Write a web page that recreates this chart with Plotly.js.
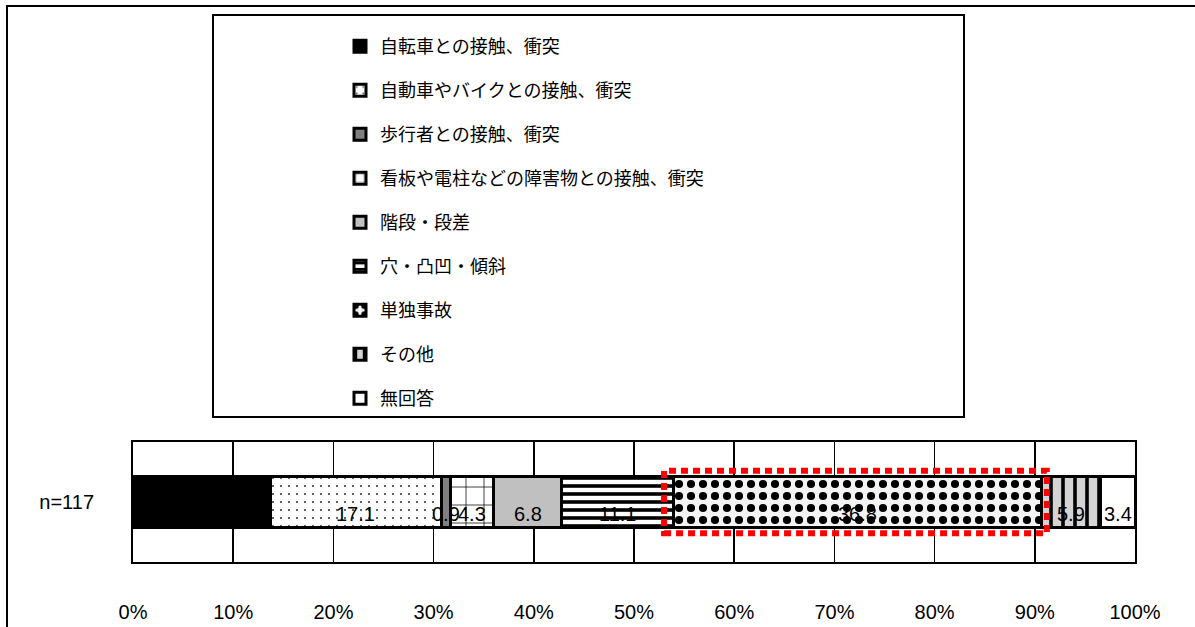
<!DOCTYPE html>
<html>
<head>
<meta charset="utf-8">
<script src="https://cdn.plot.ly/plotly-3.0.1.min.js"></script>
<style>html,body{margin:0;padding:0;background:#fff;}#chart{width:1195px;height:627px;}</style>
</head>
<body>
<div id="chart"></div>
<script>
// ---- data ----
const categories = ["n=117"];
const seriesNames = [
  "自転車との接触、衝突",
  "自動車やバイクとの接触、衝突",
  "歩行者との接触、衝突",
  "看板や電柱などの障害物との接触、衝突",
  "階段・段差",
  "穴・凸凹・傾斜",
  "単独事故",
  "その他",
  "無回答"
];
const seriesValues = [13.7, 17.1, 0.9, 4.3, 6.8, 11.1, 36.8, 5.9, 3.4];
const xTickValues = [0, 10, 20, 30, 40, 50, 60, 70, 80, 90, 100];
const highlightedSeries = "単独事故";

// ---- styles (per series) ----
const styles = [
  {bg: "#000000", fg: "#000000", shape: ""},
  {bg: "#ffffff", fg: "#333333", shape: ".", size: 8, solidity: 0.05},
  {bg: "#808080", fg: "#808080", shape: ""},
  {bg: "#ffffff", fg: "#000000", shape: "+", size: 18, solidity: 0.08},
  {bg: "#c0c0c0", fg: "#c0c0c0", shape: ""},
  {bg: "#ffffff", fg: "#000000", shape: "-", size: 8, solidity: 0.45},
  {bg: "#f4f4f4", fg: "#000000", shape: ".", size: 12, solidity: 0.36},
  {bg: "#d4d4d4", fg: "#000000", shape: "|", size: 12, solidity: 0.3},
  {bg: "#ffffff", fg: "#ffffff", shape: ""}
];

const numFont = "Liberation Sans Narrow, Arial Narrow, Liberation Sans, Arial, sans-serif";
const jpFont = "Noto Sans CJK JP, sans-serif";

const traces = seriesNames.map((name, i) => {
  const st = styles[i];
  const pattern = st.shape ? {shape: st.shape, bgcolor: st.bg, fgcolor: st.fg, size: st.size, solidity: st.solidity, fillmode: "replace"} : {shape: ""};
  return {
    type: "bar",
    orientation: "h",
    name: name,
    legendgroup: "g" + i,
    y: categories,
    x: [seriesValues[i]],
    width: 0.43,
    marker: {color: st.bg, pattern: pattern, line: {color: "#000000", width: 3}},
    hoverinfo: "skip"
  };
});

// value labels placed at each segment's middle (from the cumulative data)
const starts = seriesValues.map((v, i) => seriesValues.slice(0, i).reduce((a, b) => a + b, 0));
const labelAnnotations = seriesValues.map((v, i) => ({
  xref: "x", yref: "y",
  x: starts[i] + v / 2, y: categories[0],
  text: v.toFixed(1),
  showarrow: false,
  yshift: -12,
  font: {family: numFont, size: 20, color: "#000000"}
}));

// highlight rectangle around one segment, from the cumulative data
const hi = seriesNames.indexOf(highlightedSeries);
const hiStart = starts[hi];
const hiEnd = hiStart + seriesValues[hi];

// pixel helpers for paper-referenced layout decorations
const L = 133, R = 1195 - 1135, T = 442, B = 627 - 562;
const W = 1195 - L - R, H = 627 - T - B;
const px = v => (v - L) / W;
const py = v => (627 - B - v) / H;

const layout = {
  width: 1195, height: 627,
  margin: {l: L, r: R, t: T, b: B, autoexpand: false},
  paper_bgcolor: "#ffffff",
  plot_bgcolor: "#ffffff",
  barmode: "stack",
  bargap: 0,
  showlegend: true,
  font: {family: jpFont, color: "#000000"},
  xaxis: {
    range: [0, 100],
    tickvals: xTickValues,
    ticktext: xTickValues.map(v => v + "%"),
    tickangle: 0,
    showgrid: true, gridcolor: "#000000", gridwidth: 1.5,
    zeroline: false,
    showline: true, linecolor: "#000000", linewidth: 2, mirror: true,
    ticks: "",
    ticklabelstandoff: 31,
    tickfont: {family: numFont, size: 20, color: "#000000"},
    automargin: false,
    fixedrange: true
  },
  yaxis: {
    range: [-0.5, 0.5],
    showline: true, linecolor: "#000000", linewidth: 2, mirror: true,
    showgrid: false, zeroline: false,
    ticks: "",
    ticklabelstandoff: 33,
    tickfont: {family: "Liberation Sans, Arial, sans-serif", size: 20, color: "#000000"},
    automargin: false,
    fixedrange: true
  },
  legend: {
    xref: "container", yref: "container",
    x: 340 / 1195, xanchor: "left",
    y: 1 - 28 / 627, yanchor: "top",
    maxheight: 1,
    bgcolor: "rgba(0,0,0,0)",
    borderwidth: 0,
    traceorder: "grouped",
    tracegroupgap: 17.6,
    font: {family: jpFont, size: 18, color: "#000000"},
    itemclick: false, itemdoubleclick: false
  },
  annotations: labelAnnotations,
  shapes: [
    {type: "rect", xref: "paper", yref: "paper", x0: px(7), x1: px(1220), y0: py(6), y1: py(660),
     line: {color: "#000000", width: 2}, fillcolor: "rgba(0,0,0,0)", layer: "below"},
    {type: "rect", xref: "paper", yref: "paper", x0: px(213), x1: px(964), y0: py(15), y1: py(417),
     line: {color: "#000000", width: 2}, fillcolor: "#ffffff", layer: "below"},
    {type: "rect", xref: "x", yref: "y", x0: hiStart - 0.9, x1: hiEnd + 0.5, y0: -0.26, y1: 0.26,
     line: {color: "#ff0000", width: 6, dash: "7px,5px"}, fillcolor: "rgba(0,0,0,0)", layer: "above"}
  ]
};

Plotly.newPlot("chart", traces, layout, {staticPlot: true, displayModeBar: false});
</script>
</body>
</html>
